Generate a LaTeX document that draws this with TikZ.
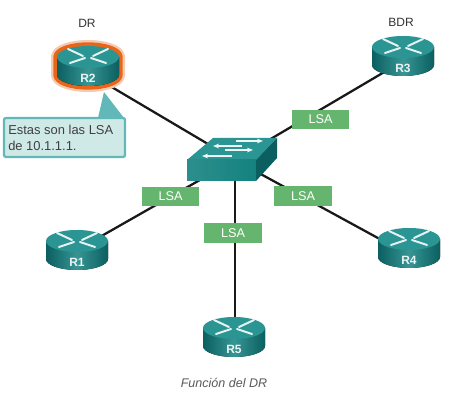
\documentclass[tikz,border=0pt]{standalone}
\usepackage{fontspec}
\usetikzlibrary{arrows.meta}
\setmainfont{Liberation Sans}
\definecolor{tealtop}{HTML}{2A9593}
\definecolor{tealmid}{HTML}{148280}
\definecolor{tealdark}{HTML}{0B5F61}
\definecolor{lsagreen}{HTML}{66B56E}
\definecolor{calloutfill}{HTML}{CFE9E7}
\definecolor{calloutline}{HTML}{62B8B8}
\definecolor{glow}{HTML}{E8661A}
\tikzset{
  link/.style={draw=black!90,line width=1.7pt},
  lsa/.style={fill=lsagreen,text=white,minimum width=43pt,minimum height=14.5pt,inner sep=0pt,font=\fontsize{9.5}{11}\selectfont},
  plain/.style={text=black!80,inner sep=0pt,font=\fontsize{9}{10}\selectfont},
  routertag/.style={text=white!90!tealtop,inner sep=0pt,font=\bfseries\fontsize{9}{10}\selectfont},
  callouttext/.style={text=black!75,inner sep=0pt,align=left,anchor=west,font=\fontsize{9.7}{12}\selectfont},
  arrowmark/.style={draw=white!88!tealtop,line width=1.5pt,line cap=round},
  swmark/.style={draw=white!92!tealtop,line width=1.1pt,-{Stealth[length=4.5pt,width=3.5pt]}},
}
% #1 name, #2 x, #3 y of top-face centre
\newcommand{\routerdraw}[3]{%
  \begin{scope}[shift={(#2,#3)}]
    \fill[left color=tealdark,right color=tealdark,middle color=tealmid!85!white]
      (-31,0) -- (-31,18) arc[start angle=180,end angle=0,x radius=31,y radius=11] -- (31,0) -- cycle;
    \fill[tealtop] (0,0) ellipse[x radius=31,y radius=11];
    \foreach \sx in {-1,1}{
      \draw[arrowmark] (\sx*20,-8) -- (\sx*5,-1);
      \draw[arrowmark] (\sx*18,6) -- (\sx*3,1);
    }
    \node[routertag] (#1) at (0,21) {#1};
  \end{scope}}
\begin{document}
\begin{tikzpicture}[x=0.75pt,y=-0.75pt]
\useasboundingbox (0,0) rectangle (465,402);
\fill[white] (0,0) rectangle (465,402);
% connection points
\coordinate (hub) at (235,160);
\coordinate (p2) at (88,73);
\coordinate (p3) at (403,61);
\coordinate (p1) at (77,250);
\coordinate (p4) at (409,255);
\coordinate (p5) at (235,335);
\foreach \p in {p1,p2,p3,p4,p5}{\draw[link] (hub) -- (\p);}
% glow around R2
\begin{scope}[shift={(88,57)}]
  \draw[glow!35,line join=round,line width=9pt,fill=glow!35] (-31,0) -- (-31,18) arc[start angle=180,end angle=0,x radius=31,y radius=11] -- (31,0) arc[start angle=0,end angle=-180,x radius=31,y radius=11] -- cycle;
  \draw[glow,line join=round,line width=5.5pt,fill=glow] (-31,0) -- (-31,18) arc[start angle=180,end angle=0,x radius=31,y radius=11] -- (31,0) arc[start angle=0,end angle=-180,x radius=31,y radius=11] -- cycle;
\end{scope}
\routerdraw{R2}{88}{57}
\routerdraw{R3}{403}{47}
\routerdraw{R1}{77}{241}
\routerdraw{R4}{409}{239}
\routerdraw{R5}{234}{328}
% switch
\fill[tealtop] (187,160) -- (213,138) -- (277,138) -- (256,160) -- cycle;
\fill[left color=tealmid!90!white,right color=tealmid] (187,160) rectangle (256,181);
\fill[tealdark] (256,160) -- (277,138) -- (277,158) -- (256,181) -- cycle;
\draw[swmark] (236,141) -- (263,141);
\draw[swmark] (242,146) -- (213,146);
\draw[swmark] (225,150) -- (253,150);
\draw[swmark] (232,156) -- (202,156);
% LSA tags
\node[lsa] (lsaA) at (320.5,119.5) {LSA};
\node[lsa] (lsaB) at (303,196) {LSA};
\node[lsa] (lsaC) at (233,233) {LSA};
\node[lsa] (lsaD) at (170.5,196.5) {LSA};
% callout
\fill[calloutline] (104,92) -- (124,118) -- (98,118) -- cycle;
\draw[draw=calloutline,fill=calloutfill,line width=1.7pt,rounded corners=1.5pt] (4,118) rectangle (125,157);
\node[callouttext] (note) at (8,137.5) {Estas son las LSA\\de 10.1.1.1.};
% labels
\node[plain] (drl) at (87,23) {DR};
\node[plain] (bdrl) at (401,22) {BDR};
\node[plain,font=\itshape\fontsize{9.4}{11}\selectfont,text=black!65] (cap) at (224,383) {Función del DR};
\end{tikzpicture}
\end{document}
